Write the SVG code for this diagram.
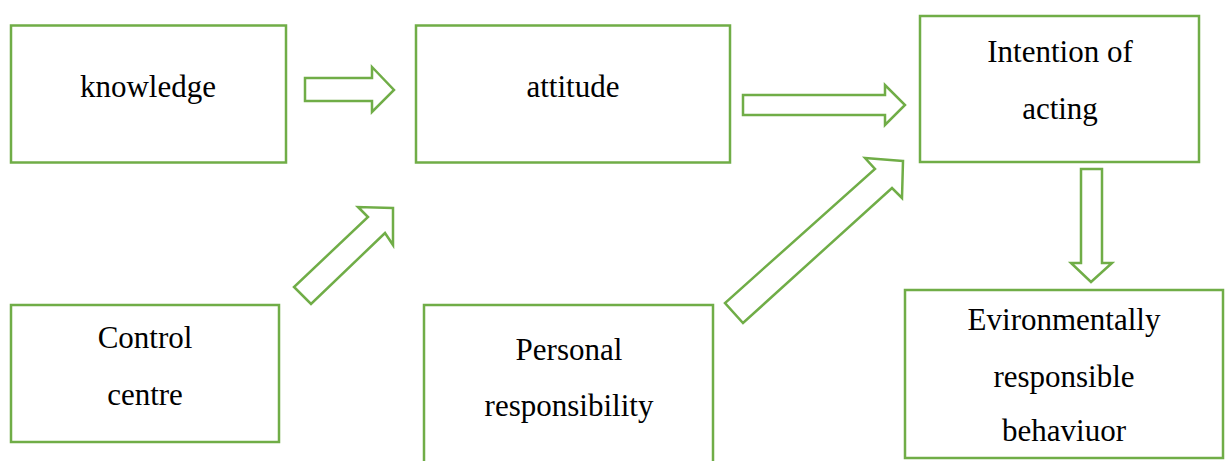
<svg xmlns="http://www.w3.org/2000/svg" width="1226" height="461" viewBox="0 0 1226 461">
<style>
.box{fill:#fff;stroke:#70ad47;stroke-width:2.5}
.arr{fill:#fff;stroke:#70ad47;stroke-width:2.5;stroke-linejoin:miter}
text{font-family:"Liberation Serif","Times New Roman",serif;font-size:31px;fill:#000;text-anchor:middle}
</style>
<rect width="1226" height="461" fill="#fff"/>
<g id="knowledge"><rect class="box" x="11" y="25.5" width="275" height="137"/><text x="148" y="97">knowledge</text></g>
<g id="attitude"><rect class="box" x="416" y="25.5" width="314" height="137"/><text x="573" y="97">attitude</text></g>
<g id="intention"><rect class="box" x="920" y="16" width="279" height="146"/><text x="1060" y="62">Intention of</text><text x="1060" y="119">acting</text></g>
<g id="control"><rect class="box" x="11" y="305" width="268" height="137"/><text x="145" y="348">Control</text><text x="145" y="405">centre</text></g>
<g id="personal"><rect class="box" x="424" y="305" width="289" height="170"/><text x="569" y="360">Personal</text><text x="569" y="416">responsibility</text></g>
<g id="behaviour"><rect class="box" x="905" y="290" width="318" height="168"/><text x="1064" y="330">Evironmentally</text><text x="1064" y="387">responsible</text><text x="1064" y="441">behaviuor</text></g>
<g id="connectors">
<polygon class="arr" points="305,78 372,78 372,67 394,90 372,112 372,101 305,101"/>
<polygon class="arr" points="743,95 885,95 885,85 905,105 885,125 885,115 743,115"/>
<polygon class="arr" points="1081,169 1102,169 1102,263 1112,263 1091,282 1071,263 1081,263"/>
<polygon class="arr" points="393,208 358,207 368,217 294,287 311,304 385,233 393,245"/>
<polygon class="arr" points="903,161 865,158 875,169 725,303 743,323 892,188 902,198"/>
</g>
</svg>
